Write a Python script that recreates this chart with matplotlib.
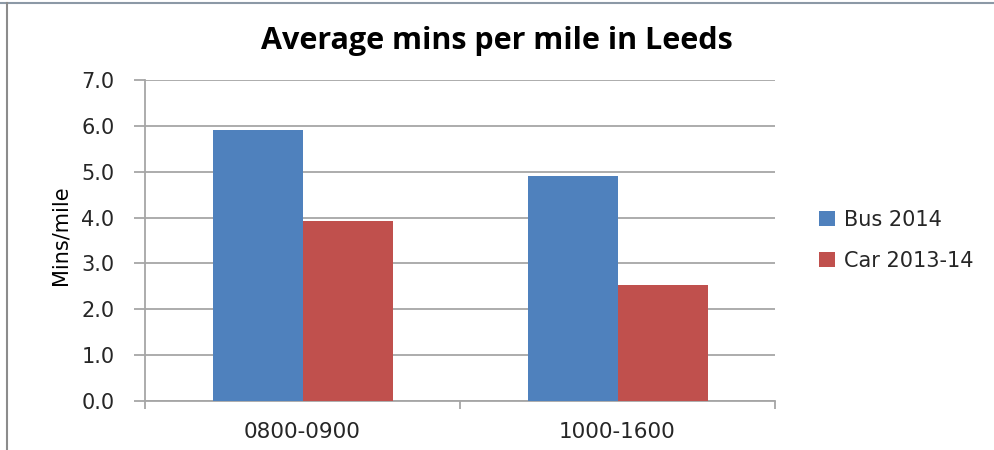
import matplotlib
matplotlib.use("Agg")
import matplotlib.pyplot as plt
from matplotlib.lines import Line2D
import numpy as np

# Data
categories = ["0800-0900", "1000-1600"]
bus_2014 = [5.92, 4.91]
car_2013_14 = [3.93, 2.52]
series_names = ["Bus 2014", "Car 2013-14"]
yticks = [0, 1, 2, 3, 4, 5, 6, 7]

blue = "#4F81BD"
red = "#C0504D"
grid_col = "#A6A6A6"

fig = plt.figure(figsize=(9.94, 4.5), dpi=100)
ax = fig.add_axes([145 / 994, 49 / 450, 630 / 994, 321 / 450])

x = np.arange(len(categories))
w = 90 / 315
ax.bar(x - w / 2, bus_2014, width=w, color=blue, label=series_names[0], zorder=3)
ax.bar(x + w / 2, car_2013_14, width=w, color=red, label=series_names[1], zorder=3)

ax.set_xlim(-0.5, len(categories) - 0.5)
ax.set_ylim(0, 7)
ax.set_yticks(yticks)
ax.set_yticklabels([f"{v:.1f}" for v in yticks], fontsize=15, family="DejaVu Sans",
                   color="#262626")
ax.yaxis.grid(True, color=grid_col, linewidth=1.3, zorder=0)

# category labels between boundary tick marks, Excel style
ax.set_xticks(x)
ax.set_xticklabels(categories, fontsize=15.5, family="DejaVu Sans", color="#262626")
ax.tick_params(axis="x", length=0, pad=15)
ax.set_xticks(np.arange(len(categories) + 1) - 0.5, minor=True)
ax.tick_params(axis="x", which="minor", length=6, color=grid_col, width=1.3)
ax.tick_params(axis="y", length=8, color=grid_col, width=1.3, pad=14)

for side in ["top", "right"]:
    ax.spines[side].set_visible(False)
for side in ["left", "bottom"]:
    ax.spines[side].set_color(grid_col)
    ax.spines[side].set_linewidth(1.3)

ax.set_ylabel("Mins/mile", fontsize=15, family="Liberation Sans Narrow")
ax.yaxis.set_label_coords(-74 / 630, 0.518)

fig.text(0.5, 0.908, "Average mins per mile in Leeds", ha="center", va="center",
         fontsize=22, fontweight="bold", family="Open Sans")

ax.legend(loc="center left", bbox_to_anchor=(1.04, 0.5), frameon=False,
          prop={"family": "DejaVu Sans", "size": 15},
          handlelength=0.75, handleheight=0.75, handletextpad=0.45, labelspacing=1.0)
for t in ax.get_legend().get_texts():
    t.set_color("#262626")

# outer chart border (top and left edges visible in the crop)
fig.add_artist(Line2D([0, 1], [1 - 3 / 450, 1 - 3 / 450], color="#8C99A6", linewidth=1.5))
fig.add_artist(Line2D([7 / 994, 7 / 994], [0, 1 - 3 / 450], color="#8C8C8C", linewidth=1.5))

fig.savefig("out.png", dpi=100)
